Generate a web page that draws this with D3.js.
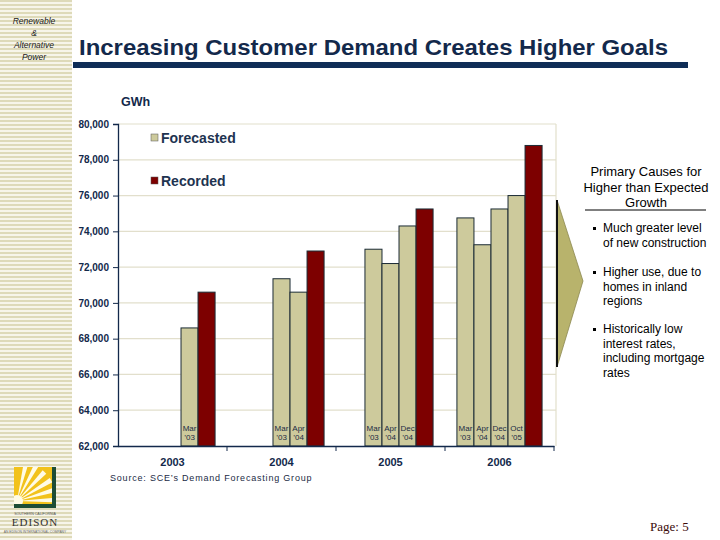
<!DOCTYPE html>
<html>
<head>
<meta charset="utf-8">
<script src="https://cdn.jsdelivr.net/npm/d3@7"></script>
<style>
  body { margin: 0; background: #fff; }
  svg { display: block; font-family: "Liberation Sans", Arial, sans-serif; }
</style>
</head>
<body>
<div id="chart"></div>
<script>
// chart data
const years = ["2003", "2004", "2005", "2006"];
const forecastLabels = [
  ["Mar|\u201903"],
  ["Mar|\u201903", "Apr|\u201904"],
  ["Mar|\u201903", "Apr|\u201904", "Dec|\u201904"],
  ["Mar|\u201903", "Apr|\u201904", "Dec|\u201904", "Oct|\u201905"]
];
const forecastValues = [
  [68600],
  [71350, 70600],
  [73000, 72200, 74300],
  [74750, 73250, 75250, 76000]
];
const recordedValues = [70600, 72900, 75250, 78800];
const yTicks = [62000, 64000, 66000, 68000, 70000, 72000, 74000, 76000, 78000, 80000];
const causes = [
  ["Much greater level", "of new construction"],
  ["Higher use, due to", "homes in inland", "regions"],
  ["Historically low", "interest rates,", "including mortgage", "rates"]
];

const navy = "#13294b";
const svg = d3.select("#chart").append("svg")
  .attr("width", 720).attr("height", 540);

// striped sidebar
const defs = svg.append("defs");
const pat = defs.append("pattern").attr("id", "stripes")
  .attr("patternUnits", "userSpaceOnUse").attr("width", 8).attr("height", 4);
pat.append("rect").attr("width", 8).attr("height", 4).attr("fill", "#f7f5ea");
pat.append("rect").attr("width", 8).attr("height", 2).attr("fill", "#dedab9");
svg.append("rect").attr("x", 0).attr("y", 0).attr("width", 72).attr("height", 540)
  .attr("fill", "url(#stripes)");

svg.append("text").attr("x", 34).attr("y", 24).attr("text-anchor", "middle")
  .attr("font-size", 8.5).attr("font-style", "italic").attr("fill", "#222")
  .selectAll("tspan").data(["Renewable", "&", "Alternative", "Power"]).join("tspan")
  .attr("x", 34).attr("dy", (d, i) => i ? 12 : 0).text(d => d);

// title
svg.append("text").attr("x", 79).attr("y", 55)
  .attr("font-size", 22.5).attr("font-weight", "bold").attr("fill", navy)
  .attr("textLength", 589).attr("lengthAdjust", "spacingAndGlyphs")
  .text("Increasing Customer Demand Creates Higher Goals");
svg.append("rect").attr("x", 73).attr("y", 62).attr("width", 615).attr("height", 6).attr("fill", "#0f2d57");

svg.append("text").attr("x", 121).attr("y", 106)
  .attr("font-size", 12.5).attr("font-weight", "bold").attr("fill", navy).text("GWh");

// plot area
const pLeft = 118, pRight = 554, pTop = 124, pBottom = 446;
const y = d3.scaleLinear().domain([62000, 80000]).range([pBottom, pTop]);
const x = d3.scaleBand().domain(years).range([pLeft, pRight]).padding(0);
const slot = d3.scaleBand().domain(d3.range(5)).range([0, x.bandwidth()])
  .paddingInner(0).paddingOuter(0.7);

const g = svg.append("g");
g.selectAll("line.grid").data(yTicks.slice(1)).join("line")
  .attr("x1", pLeft).attr("x2", pRight + 2)
  .attr("y1", d => y(d)).attr("y2", d => y(d))
  .attr("stroke", "#e2dfcc").attr("stroke-width", 1.2);
g.append("line").attr("x1", pRight + 2).attr("x2", pRight + 2).attr("y1", pTop).attr("y2", pBottom)
  .attr("stroke", "#e2dfcc").attr("stroke-width", 1.2);

// bars
years.forEach((yr, i) => {
  const vals = forecastValues[i].map((v, j) => ({ v, label: forecastLabels[i][j], type: "f" }));
  vals.push({ v: recordedValues[i], type: "r" });
  const n = vals.length;
  const grp = g.append("g").attr("transform", `translate(${x(yr)},0)`);
  grp.selectAll("rect").data(vals).join("rect")
    .attr("x", (d, j) => slot(5 - n + j))
    .attr("y", d => y(d.v))
    .attr("width", slot.bandwidth())
    .attr("height", d => y(62000) - y(d.v))
    .attr("fill", d => d.type === "f" ? "#cdca9c" : "#7d0000")
    .attr("stroke", "#1b2b35").attr("stroke-width", 1);
  grp.selectAll("text").data(vals.filter(d => d.type === "f")).join("text")
    .attr("text-anchor", "middle").attr("font-size", 8).attr("fill", "#1b2b45")
    .each(function (d, j) {
      const parts = d.label.split("|");
      const cx = slot(5 - n + j) + slot.bandwidth() / 2;
      d3.select(this).selectAll("tspan").data(parts).join("tspan")
        .attr("x", cx).attr("y", (p, k) => 431 + k * 9).text(p => p);
    });
});

// axes
const yAxis = g.append("g").attr("transform", `translate(${pLeft},0)`)
  .call(d3.axisLeft(y).tickValues(yTicks).tickSize(5).tickPadding(4)
    .tickFormat(d3.format(",")));
yAxis.select(".domain").attr("stroke", navy).attr("stroke-width", 1.3);
yAxis.selectAll(".tick line").attr("stroke", navy);
yAxis.selectAll("text").attr("font-size", 10).attr("font-weight", "bold")
  .attr("fill", navy).attr("font-family", "Liberation Sans, Arial, sans-serif");

const xAxis = g.append("g").attr("transform", `translate(0,${pBottom})`)
  .call(d3.axisBottom(x).tickSize(0).tickPadding(12));
xAxis.select(".domain").attr("stroke", navy).attr("stroke-width", 1.3);
xAxis.selectAll("text").attr("font-size", 11).attr("font-weight", "bold")
  .attr("fill", navy).attr("font-family", "Liberation Sans, Arial, sans-serif");
g.selectAll("line.xtick").data(years).join("line")
  .attr("x1", d => x(d) + x.bandwidth()).attr("x2", d => x(d) + x.bandwidth())
  .attr("y1", pBottom).attr("y2", pBottom + 5).attr("stroke", navy);

// legend
const legend = [["Forecasted", "#cdca9c", 138], ["Recorded", "#7d0000", 181]];
legend.forEach(([name, col, ly]) => {
  svg.append("rect").attr("x", 151).attr("y", ly - 4).attr("width", 7).attr("height", 7)
    .attr("fill", col).attr("stroke", "#555").attr("stroke-width", 0.5);
  svg.append("text").attr("x", 161).attr("y", ly + 5).attr("font-size", 14)
    .attr("font-weight", "bold").attr("fill", "#1e3350").text(name);
});

svg.append("text").attr("x", 110).attr("y", 481).attr("font-size", 9)
  .attr("letter-spacing", 0.8).attr("fill", "#1b2b45")
  .text("Source: SCE\u2019s Demand Forecasting Group");

// arrow
svg.append("path").attr("d", "M557,200 L583,281 L557,367 Z")
  .attr("fill", "#b8b36c").attr("stroke", "#8c8850").attr("stroke-width", 0.8);
svg.append("line").attr("x1", 557).attr("x2", 557).attr("y1", 200).attr("y2", 367)
  .attr("stroke", "#111").attr("stroke-width", 2);

// causes panel
svg.append("text").attr("text-anchor", "middle").attr("font-size", 13).attr("fill", "#000")
  .selectAll("tspan").data(["Primary Causes for", "Higher than Expected", "Growth"]).join("tspan")
  .attr("x", 646).attr("y", (d, i) => 176 + i * 15.5).text(d => d);
svg.append("line").attr("x1", 585).attr("x2", 706).attr("y1", 210).attr("y2", 210)
  .attr("stroke", "#000").attr("stroke-width", 1);
const starts = [232, 276, 333];
causes.forEach((lines, i) => {
  svg.append("rect").attr("x", 593).attr("y", starts[i] - 5).attr("width", 3).attr("height", 3).attr("fill", "#000");
  svg.append("text").attr("font-size", 12).attr("fill", "#000")
    .selectAll("tspan").data(lines).join("tspan")
    .attr("x", 603).attr("y", (d, k) => starts[i] + k * 14.5).text(d => d);
});

// logo
defs.append("clipPath").attr("id", "logoclip").append("rect")
  .attr("x", 14).attr("y", 467).attr("width", 38).attr("height", 37);
const logo = svg.append("g");
logo.append("rect").attr("x", 14).attr("y", 467).attr("width", 42).attr("height", 41).attr("fill", "#1d4d36");
logo.append("rect").attr("x", 14).attr("y", 467).attr("width", 38).attr("height", 37).attr("fill", "#f2c21b");
const rayAngles = [-80, -65, -50, -35, -20, -5];
rayAngles.forEach(a => {
  const r = a * Math.PI / 180, r2 = (a + 7) * Math.PI / 180;
  const cx = 17, cy = 501, L = 40;
  logo.append("path")
    .attr("d", `M${cx},${cy} L${cx + L * Math.cos(r)},${cy + L * Math.sin(r)} L${cx + L * Math.cos(r2)},${cy + L * Math.sin(r2)} Z`)
    .attr("fill", "#fffbe6").attr("clip-path", "url(#logoclip)");
});
logo.append("circle").attr("cx", 17).attr("cy", 501).attr("r", 6).attr("fill", "#fffbe6")
  .attr("clip-path", "url(#logoclip)");
logo.append("text").attr("x", 35).attr("y", 515).attr("text-anchor", "middle")
  .attr("font-size", 3.5).attr("fill", "#555").text("SOUTHERN CALIFORNIA");
logo.append("text").attr("x", 35).attr("y", 526).attr("text-anchor", "middle")
  .attr("font-size", 11).attr("letter-spacing", 1).attr("font-family", "Liberation Serif, serif")
  .attr("fill", "#333").text("EDISON");
logo.append("text").attr("x", 35).attr("y", 533).attr("text-anchor", "middle")
  .attr("font-size", 3.3).attr("fill", "#666").text("AN EDISON INTERNATIONAL COMPANY");

svg.append("text").attr("x", 650).attr("y", 531).attr("font-size", 13)
  .attr("font-family", "Liberation Serif, Times New Roman, serif").attr("fill", "#3b0a0a")
  .text("Page: 5");
</script>
</body>
</html>
